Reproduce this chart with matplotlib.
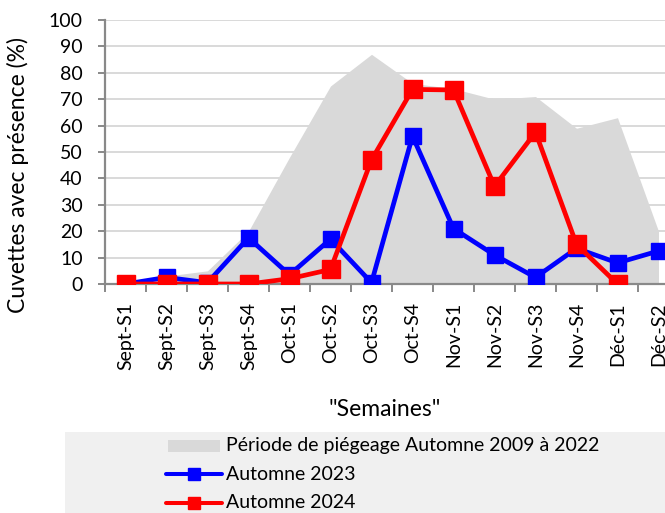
import numpy as np
import matplotlib
matplotlib.use('Agg')
import matplotlib.pyplot as plt
from matplotlib.patches import Rectangle
from matplotlib.lines import Line2D

plt.rcParams['font.family'] = ['Lato', 'DejaVu Sans']
FS = 14
FS_TITRE = 16.5

# weekly categories
semaines = ['Sept-S1', 'Sept-S2', 'Sept-S3', 'Sept-S4',
            'Oct-S1', 'Oct-S2', 'Oct-S3', 'Oct-S4',
            'Nov-S1', 'Nov-S2', 'Nov-S3', 'Nov-S4',
            'Déc-S1', 'Déc-S2']

# trapping period envelope 2009-2022 (%)
periode_2009_2022 = [1, 3, 5, 20, 48, 75, 87, 76, 74, 70, 71, 59, 63, 20]

# share of cuvettes with presence (%)
automne_2023 = [0, 2.5, 0.5, 17.5, 3.5, 17, 0.5, 56, 21, 11, 2.5, 13.5, 8, 12.5]
automne_2024 = [0, 0, 0, 0, 2, 5.5, 47, 73.7, 73.5, 37, 57.5, 15, 0]

x = np.arange(len(semaines))

W, H = 665, 513
fig = plt.figure(figsize=(W / 100, H / 100), dpi=100)
ax = fig.add_axes([105 / W, 1 - 284 / H, 574 / W, 264 / H])

ax.fill_between(x, periode_2009_2022, color='#d9d9d9', lw=0, zorder=1)
ax.plot(x, automne_2023, color='#0000ff', lw=3.4, marker='s', ms=11.5, zorder=3)
ax.plot(x[:len(automne_2024)], automne_2024, color='#ff0000', lw=3.4, marker='s', ms=12.5, zorder=4)

ax.set_xlim(-0.5, len(semaines) - 0.5)
ax.set_ylim(0, 100)
ax.set_yticks(range(0, 101, 10))
ax.yaxis.grid(True, color='#d9d9d9', lw=1.4, zorder=0)
ax.set_axisbelow(True)

ax.set_xticks(x)
ax.set_xticklabels(semaines, rotation=90, fontsize=FS, va='top')
ax.set_xticks(np.arange(-0.5, len(semaines)), minor=True)
ax.tick_params(axis='x', which='major', length=0, pad=13)
ax.tick_params(axis='x', which='minor', length=6, width=1.4, color='#898989')
ax.tick_params(axis='y', length=5, width=1.4, color='#898989', labelsize=FS, pad=11)

for s in ['top', 'right']:
    ax.spines[s].set_visible(False)
for s in ['left', 'bottom']:
    ax.spines[s].set_color('#898989')
    ax.spines[s].set_linewidth(1.6)

fig.text(18 / W, 1 - 175 / H, 'Cuvettes avec présence (%)', rotation=90,
         ha='center', va='center', fontsize=FS_TITRE)
fig.text(385 / W, 1 - 410 / H, '"Semaines"', ha='center', va='center', fontsize=FS_TITRE)

# legend panel drawn in figure pixels
fig.patches.append(Rectangle((65 / W, 0), 1, 1 - 431.7 / H, transform=fig.transFigure,
                             facecolor='#f0f0f0', edgecolor='none', zorder=0))
rows = [445.7, 474.3, 502.7]
labels = ['Période de piégeage Automne 2009 à 2022', 'Automne 2023', 'Automne 2024']
fig.patches.append(Rectangle((168 / W, 1 - 452 / H), 52 / W, 12 / H, transform=fig.transFigure,
                             facecolor='#d9d9d9', edgecolor='none', zorder=1))
for yy, col in zip(rows[1:], ['#0000ff', '#ff0000']):
    fig.lines.append(Line2D([166 / W, 222 / W], [1 - yy / H] * 2, transform=fig.transFigure,
                            color=col, lw=2.9, solid_capstyle='round'))
    fig.lines.append(Line2D([194 / W], [1 - yy / H], transform=fig.transFigure,
                            color=col, marker='s', ms=8.6, lw=0))
for yy, lab in zip(rows, labels):
    fig.text(226 / W, 1 - yy / H, lab, ha='left', va='center', fontsize=FS)

fig.savefig('out.png', dpi=100)
